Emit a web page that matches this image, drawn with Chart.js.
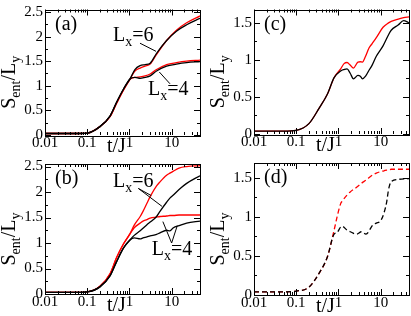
<!DOCTYPE html>
<html>
<head>
<meta charset="utf-8">
<script src="https://cdn.jsdelivr.net/npm/chart.js@4.4.0/dist/chart.umd.min.js"></script>
<style>
html, body { margin: 0; padding: 0; background: #fff; }
#wrap { position: relative; width: 411px; height: 316px; }
canvas { position: absolute; left: 0; top: 0; }
#warm { position: absolute; left: -999px; top: 0; font-family: "Liberation Serif"; font-size: 15px; }
</style>
</head>
<body>
<div id="warm">S/L t/J 0.5</div>
<div id="wrap">
  <canvas id="pa" width="411" height="316"></canvas>
  <canvas id="pb" width="411" height="316"></canvas>
  <canvas id="pc" width="411" height="316"></canvas>
  <canvas id="pd" width="411" height="316"></canvas>
</div>
<script>
// axis ticks
const xMajor = [0.01, 0.1, 1, 10];
const xLabels = ["0.01", "0.1", "1", "10"];
const yLabelsBig = ["0", "0.5", "1", "1.5", "2", "2.5"];
const yLabelsSmall = ["0", "0.5", "1", "1.5"];

// panel (a)
const tA = [0.01, 0.05, 0.1, 0.2, 0.35, 0.5, 0.72, 1.03, 1.35, 1.8, 2.35, 3.1, 4.4, 7.6, 13, 22.7, 47];
const a6Black = [0.03, 0.03, 0.04, 0.17, 0.39, 0.67, 0.93, 1.14, 1.33, 1.41, 1.43, 1.46, 1.66, 1.92, 2.11, 2.24, 2.37];
const a6Red   = [0.03, 0.03, 0.04, 0.17, 0.38, 0.65, 0.91, 1.13, 1.30, 1.36, 1.40, 1.44, 1.64, 1.92, 2.13, 2.28, 2.42];
const a4Black = [0.03, 0.03, 0.04, 0.17, 0.39, 0.67, 0.93, 1.14, 1.17, 1.15, 1.17, 1.20, 1.30, 1.40, 1.44, 1.47, 1.49];
const a4Red   = [0.03, 0.03, 0.04, 0.17, 0.38, 0.65, 0.91, 1.13, 1.17, 1.18, 1.20, 1.24, 1.33, 1.43, 1.47, 1.50, 1.52];

// panel (b)
const tB = [0.01, 0.05, 0.1, 0.2, 0.35, 0.5, 0.72, 1.03, 1.3, 1.8, 2.1, 2.6, 3.1, 4.4, 5.3, 7.6, 9.1, 11, 15, 22.7, 47];
const b6Red   = [0.03, 0.03, 0.04, 0.15, 0.40, 0.72, 0.98, 1.18, 1.35, 1.52, 1.62, 1.78, 1.91, 2.12, 2.20, 2.33, 2.37, 2.41, 2.47, 2.50, 2.52];
const b4Red   = [0.03, 0.03, 0.04, 0.15, 0.40, 0.72, 0.98, 1.18, 1.30, 1.39, 1.43, 1.46, 1.49, 1.51, 1.52, 1.53, 1.54, 1.54, 1.55, 1.55, 1.55];
const b6Black = [0.03, 0.03, 0.04, 0.14, 0.36, 0.64, 0.90, 1.06, 1.15, 1.24, 1.29, 1.36, 1.41, 1.52, 1.62, 1.80, 1.88, 1.94, 2.05, 2.17, 2.32];
const b4Black = [0.03, 0.03, 0.04, 0.14, 0.36, 0.64, 0.90, 1.06, 1.10, 1.08, 1.10, 1.12, 1.14, 1.17, 1.20, 1.25, 1.24, 1.30, 1.34, 1.39, 1.43];

// panel (c)
const tC = [0.01, 0.05, 0.1, 0.2, 0.35, 0.55, 0.79, 1.13, 1.36, 1.6, 1.9, 2.27, 2.9, 3.3, 3.7, 4.4, 5.3, 6.3, 7.9, 11.4, 15.4, 17.8, 26, 35, 47];
const cRed   = [0.04, 0.04, 0.05, 0.14, 0.35, 0.54, 0.76, 0.88, 0.95, 0.965, 0.93, 0.89, 0.97, 0.975, 0.97, 1.05, 1.16, 1.22, 1.30, 1.44, 1.50, 1.52, 1.55, 1.57, 1.58];
const cBlack = [0.04, 0.04, 0.05, 0.14, 0.35, 0.54, 0.76, 0.85, 0.87, 0.88, 0.82, 0.745, 0.79, 0.78, 0.745, 0.78, 0.86, 0.93, 1.05, 1.19, 1.34, 1.40, 1.47, 1.53, 1.50];

// panel (d)
const tD = [0.01, 0.05, 0.1, 0.2, 0.35, 0.55, 0.79, 0.93, 1.13, 1.22, 1.6, 1.9, 2.7, 3.5, 4.5, 6.6, 7.9, 10, 12, 14, 15.4, 17.8, 26, 47];
const dRed   = [0.04, 0.04, 0.05, 0.10, 0.28, 0.49, 0.83, 1.00, 1.17, 1.20, 1.28, 1.32, 1.38, 1.43, 1.47, 1.54, 1.56, 1.58, 1.59, 1.60, 1.60, 1.61, 1.61, 1.61];
const dBlack = [0.04, 0.04, 0.05, 0.10, 0.28, 0.49, 0.78, 0.80, 0.87, 0.88, 0.83, 0.81, 0.78, 0.81, 0.78, 0.90, 0.92, 0.95, 1.05, 1.20, 1.35, 1.45, 1.48, 1.49];

const SERIF = "'Liberation Serif', serif";

function series(t, v, color, dash) {
    return {
        data: t.map((x, i) => ({ x: x, y: v[i] })),
        borderColor: color,
        borderWidth: 1.3,
        borderDash: dash || [],
        pointRadius: 0,
        cubicInterpolationMode: "monotone",
        fill: false
    };
}

// draw text made of pieces [text, size, dy]
function richWidth(ctx, parts) {
    let w = 0;
    parts.forEach(p => { ctx.font = p[1] + "px " + SERIF; w += ctx.measureText(p[0]).width; });
    return w;
}
function richText(ctx, parts, x, y) {
    ctx.textAlign = "left";
    ctx.textBaseline = "alphabetic";
    parts.forEach(p => {
        ctx.font = p[1] + "px " + SERIF;
        ctx.fillText(p[0], x, y + (p[2] || 0));
        x += ctx.measureText(p[0]).width;
    });
}

const titleY = [["S", 20], ["ent", 14, 5], ["/L", 20], ["y", 14, 5]];
const titleX = [["t/J", 20]];

// frame, inner ticks, titles and notes
const framePlugin = {
    id: "frame",
    afterDraw(chart, args, opts) {
        const ctx = chart.ctx;
        const a = chart.chartArea;
        const xs = chart.scales.x, ys = chart.scales.y;
        ctx.save();
        ctx.strokeStyle = "#000";
        ctx.fillStyle = "#000";
        ctx.lineWidth = 1;
        ctx.strokeRect(Math.round(a.left) + 0.5, Math.round(a.top) + 0.5,
            Math.round(a.right - a.left), Math.round(a.bottom - a.top));

        ctx.beginPath();
        // log ticks on x
        for (let d = 0.01; d < 100; d *= 10) {
            for (let k = 1; k < 10; k++) {
                const v = d * k;
                if (v < xs.min || v > xs.max) continue;
                const px = Math.round(xs.getPixelForValue(v)) + 0.5;
                const len = k === 1 ? 6 : 3;
                ctx.moveTo(px, a.bottom); ctx.lineTo(px, a.bottom - len);
                ctx.moveTo(px, a.top); ctx.lineTo(px, a.top + len);
            }
        }
        // linear ticks on y
        for (let i = 0; i * 0.25 <= ys.max + 1e-9; i++) {
            const py = Math.round(ys.getPixelForValue(i * 0.25)) + 0.5;
            const len = i % 2 === 0 ? 6 : 3;
            ctx.moveTo(a.left, py); ctx.lineTo(a.left + len, py);
            ctx.moveTo(a.right, py); ctx.lineTo(a.right - len, py);
        }
        ctx.stroke();

        // axis titles
        richText(ctx, titleX, a.left + 62, a.bottom + 17);
        ctx.save();
        const w = richWidth(ctx, titleY);
        ctx.translate(a.left - 30, (a.top + a.bottom) / 2 + 10);
        ctx.rotate(-Math.PI / 2);
        richText(ctx, titleY, -w / 2, 0);
        ctx.restore();

        // panel letter
        richText(ctx, [[opts.label, 20]], a.left + 10, a.top + 20);

        // notes with leader lines, placed in data units
        (opts.notes || []).forEach(n => {
            richText(ctx, n.parts, xs.getPixelForValue(n.at[0]), ys.getPixelForValue(n.at[1]));
            ctx.beginPath();
            n.lines.forEach(l => {
                ctx.moveTo(xs.getPixelForValue(l[0][0]), ys.getPixelForValue(l[0][1]));
                ctx.lineTo(xs.getPixelForValue(l[1][0]), ys.getPixelForValue(l[1][1]));
            });
            ctx.stroke();
        });
        ctx.restore();
    }
};

function makePanel(id, box, yMax, yLabels, datasets, extra) {
    const tickFont = { family: SERIF, size: 15, lineHeight: 1 };
    new Chart(document.getElementById(id), {
        type: "line",
        data: { datasets: datasets },
        options: {
            responsive: false,
            animation: false,
            layout: { padding: { left: box.l - 40, top: box.t, right: 411 - box.r, bottom: 296 - box.b } },
            plugins: { legend: { display: false }, tooltip: { enabled: false }, frame: extra },
            scales: {
                x: {
                    type: "logarithmic", min: 0.01, max: 47,
                    grid: { display: false, drawTicks: false }, border: { display: false },
                    afterBuildTicks: s => { s.ticks = xMajor.map(v => ({ value: v })); },
                    afterFit: s => { s.height = 20; },
                    ticks: { font: tickFont, color: "#000", padding: 1, maxRotation: 0, autoSkip: false,
                        callback: (v, i) => xLabels[i] }
                },
                y: {
                    min: 0, max: yMax,
                    grid: { display: false, drawTicks: false }, border: { display: false },
                    afterBuildTicks: s => { s.ticks = yLabels.map((l, i) => ({ value: i * 0.5 })); },
                    afterFit: s => { s.width = 40; },
                    ticks: { font: tickFont, color: "#000", padding: 2, callback: (v, i) => yLabels[i] }
                }
            }
        },
        plugins: [framePlugin]
    });
}

const L6 = [["L", 20], ["x", 14, 5], ["=6", 20]];
const L4 = [["L", 20], ["x", 14, 5], ["=4", 20]];

function build() {
    makePanel("pa", { l: 45, t: 4, r: 200, b: 135 }, 2.55, yLabelsBig, [
        series(tA, a6Black, "#000"), series(tA, a4Black, "#000"),
        series(tA, a6Red, "#ff0000"), series(tA, a4Red, "#ff0000")
    ], {
        label: "(a)",
        notes: [
            { parts: L6, at: [0.41, 1.91], lines: [[[1.78, 1.865], [4.27, 1.70]]] },
            { parts: L4, at: [2.76, 0.82], lines: [[[9.16, 1.04], [5.11, 1.28]]] }
        ]
    });

    makePanel("pb", { l: 45, t: 164, r: 200, b: 294 }, 2.55, yLabelsBig, [
        series(tB, b6Black, "#000"), series(tB, b4Black, "#000"),
        series(tB, b6Red, "#ff0000"), series(tB, b4Red, "#ff0000")
    ], {
        label: "(b)",
        notes: [
            { parts: L6, at: [0.41, 2.09], lines: [[[1.63, 2.07], [5.9, 1.72]], [[1.63, 2.07], [3.3, 1.93]]] },
            { parts: L4, at: [3.37, 0.77], lines: [[[10, 1.0], [6.2, 1.42]], [[10, 1.0], [13.6, 1.34]]] }
        ]
    });

    makePanel("pc", { l: 254, t: 3, r: 409, b: 134 }, 1.68, yLabelsSmall, [
        series(tC, cBlack, "#000"), series(tC, cRed, "#ff0000")
    ], { label: "(c)" });

    makePanel("pd", { l: 254, t: 163, r: 409, b: 295 }, 1.69, yLabelsSmall, [
        series(tD, dBlack, "#000", [5, 3]), series(tD, dRed, "#ff0000", [5, 3])
    ], { label: "(d)" });
}

// make sure the serif face is ready before the canvases use it
document.fonts.load("15px 'Liberation Serif'").then(build, build);
</script>
</body>
</html>
